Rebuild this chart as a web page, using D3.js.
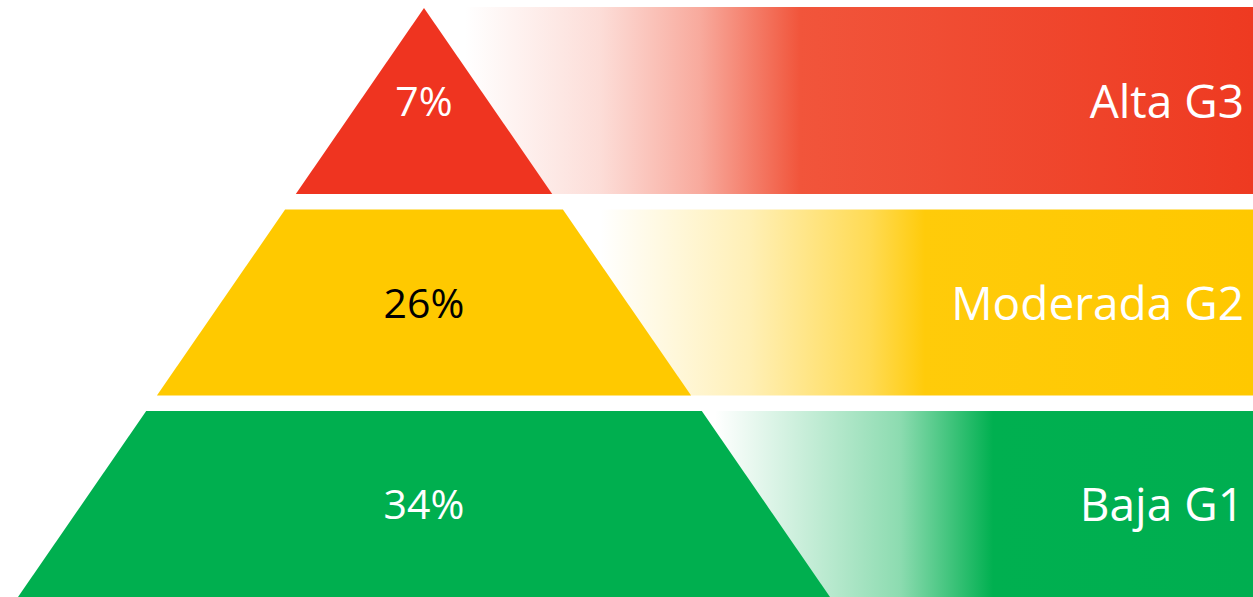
<!DOCTYPE html>
<html>
<head>
<meta charset="utf-8">
<script src="https://cdn.jsdelivr.net/npm/d3@7"></script>
<style>
  body { margin: 0; background: #fff; overflow: hidden; }
  svg { display: block; font-family: "Open Sans", sans-serif; }
</style>
</head>
<body>
<svg id="chart"></svg>
<script>
// data, top tier first
var levels = ["Alta G3", "Moderada G2", "Baja G1"];
var shares = [7, 26, 34];
var tierColors = ["#EF3420", "#FFC900", "#00AF4F"];
var labelColors = ["#ffffff", "#000000", "#ffffff"];

var width = 1253, height = 597;
var apexY = 8, baseY = 597, centerX = 424;

// gradient ramps for the bands on the right (x in px, alpha)
var ramps = [
  { stops: [[465, 0], [600, 0.2], [700, 0.5], [800, 1]], solid: "#F1553B", end: "#EE3A21" },
  { stops: [[600, 0], [750, 0.3], [870, 0.7], [925, 1]], solid: "#FFCB0A", end: "#FFC800" },
  { stops: [[715, 0], [900, 0.45], [993, 1]], solid: "#00B050", end: "#00AE50" }
];

var svg = d3.select("#chart").attr("width", width).attr("height", height);

var y = d3.scaleBand().domain(levels).range([apexY, baseY]).paddingInner(0.077);
// half width of the pyramid at a given height
var halfW = d3.scaleLinear().domain([apexY, baseY]).range([0, 406]);

var defs = svg.append("defs");

levels.forEach(function (lv, i) {
  var top = y(lv), bot = y(lv) + y.bandwidth();
  var x0 = centerX + halfW(top);
  var r = ramps[i];
  var span = width - x0;

  var grad = defs.append("linearGradient")
    .attr("id", "grad" + i)
    .attr("gradientUnits", "userSpaceOnUse")
    .attr("x1", x0).attr("x2", width)
    .attr("y1", 0).attr("y2", 0);
  r.stops.forEach(function (s) {
    grad.append("stop")
      .attr("offset", Math.max(0, (s[0] - x0) / span))
      .attr("stop-color", r.solid)
      .attr("stop-opacity", s[1]);
  });
  grad.append("stop").attr("offset", 1).attr("stop-color", r.end);

  // band behind
  svg.append("rect")
    .attr("x", x0)
    .attr("y", top - (i == 0 ? 1 : 0))
    .attr("width", span)
    .attr("height", bot - top + (i == 0 ? 1 : 0))
    .attr("fill", "url(#grad" + i + ")");

  // pyramid tier
  var pts = [
    [centerX - halfW(top), top],
    [centerX + halfW(top), top],
    [centerX + halfW(bot), bot],
    [centerX - halfW(bot), bot]
  ];
  svg.append("path")
    .attr("d", d3.line()(pts) + "Z")
    .attr("fill", tierColors[i]);

  var mid = top + y.bandwidth() / 2;
  svg.append("text")
    .attr("x", centerX)
    .attr("y", mid + 15)
    .attr("text-anchor", "middle")
    .attr("font-size", 41)
    .attr("fill", labelColors[i])
    .text(shares[i] + "%");

  svg.append("text")
    .attr("x", 1244)
    .attr("y", mid + 17)
    .attr("text-anchor", "end")
    .attr("font-size", 46)
    .attr("fill", "#ffffff")
    .text(lv);
});
</script>
</body>
</html>
